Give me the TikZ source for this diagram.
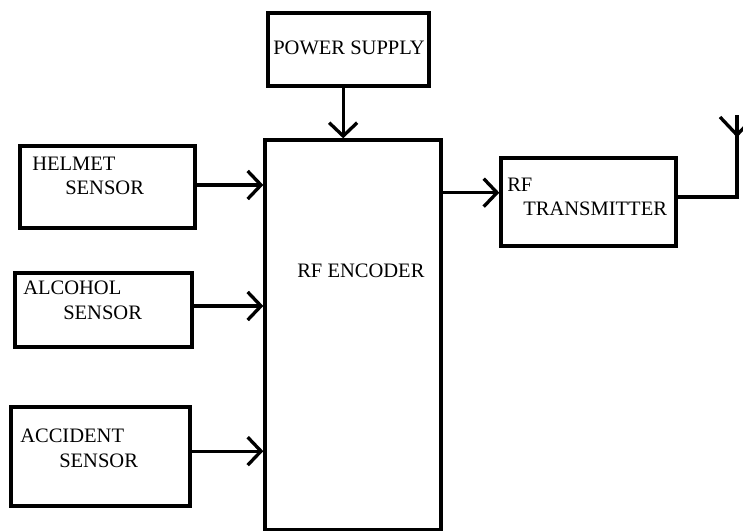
\documentclass[tikz,border=0pt]{standalone}
\usepackage{fontspec}
\setmainfont{Liberation Serif}
\usepackage{tikz}
\usetikzlibrary{shapes,arrows.meta,positioning}

\begin{document}
\begin{tikzpicture}[x=0.75pt, y=-0.75pt,
    blk/.style={rectangle, draw=black, line width=2.5pt, inner sep=0pt},
    lbl/.style={anchor=base west, inner sep=0pt, font=\fontsize{15.4}{18}\selectfont},
    feed/.style={line width=2.5pt, -{Straight Barb[length=10pt, width=21pt, line width=2.5pt]}}
]
\useasboundingbox (0,0) rectangle (743,531);

% Power supply
\node[blk, minimum width=120.75pt, minimum height=54.75pt] (power) at (348.5, 49.5) {};
\node[lbl] (powertxt) at (273, 55) {POWER SUPPLY};

% Encoder
\node[blk, minimum width=132pt, minimum height=292.5pt] (enc) at (353, 335) {};
\node[lbl] (enctxt) at (297, 277) {RF ENCODER};

% Sensors
\node[blk, minimum width=131.25pt, minimum height=61.5pt] (helmet) at (107.5, 187) {};
\node[lbl] (helmetA) at (32, 171) {HELMET};
\node[lbl] (helmetB) at (65, 195) {SENSOR};

\node[blk, minimum width=132.75pt, minimum height=55.5pt] (alcohol) at (103.5, 310) {};
\node[lbl] (alcoholA) at (23, 294) {ALCOHOL};
\node[lbl] (alcoholB) at (63, 319) {SENSOR};

\node[blk, minimum width=134.25pt, minimum height=74.25pt] (accident) at (100.5, 456.5) {};
\node[lbl] (accidentA) at (20, 442) {ACCIDENT};
\node[lbl] (accidentB) at (59, 467) {SENSOR};

% Transmitter
\node[blk, minimum width=131.25pt, minimum height=66pt] (tx) at (588.5, 202) {};
\node[lbl] (txA) at (507, 192) {RF};
\node[lbl] (txB) at (523, 216) {TRANSMITTER};

% Antenna
\coordinate (antfoot) at (737, 197);
\coordinate (anttop) at (737, 115);
\coordinate (antjoin) at (737, 135);
\coordinate (antL) at (720, 117);
\coordinate (antR) at (754, 117);

% Arrows
\draw[feed] ([xshift=-4pt]power.south) -- ([xshift=-4pt]power.south |- enc.north);
\draw[feed] ([yshift=1.5pt]helmet.east) -- ([yshift=1.5pt]helmet.east -| enc.west);
\draw[feed] ([yshift=3pt]alcohol.east) -- ([yshift=3pt]alcohol.east -| enc.west);
\draw[feed] ([yshift=4pt]accident.east) -- ([yshift=4pt]accident.east -| enc.west);
\draw[feed] ([yshift=7pt]tx.west -| enc.east) -- ([yshift=7pt]tx.west);
\draw[line width=2.5pt] (tx.east |- antfoot) -- (antfoot) -- (anttop);
\draw[line width=2.5pt] (antL) -- (antjoin) -- (antR);

\end{tikzpicture}
\end{document}
